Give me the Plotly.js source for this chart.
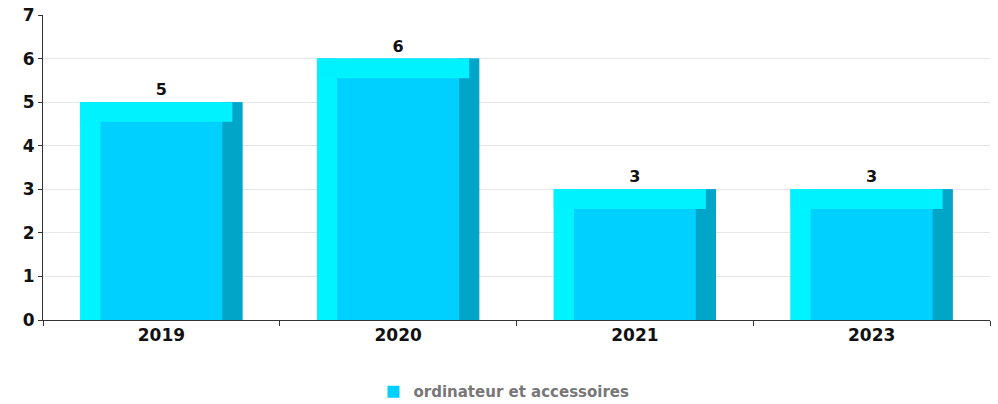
<!DOCTYPE html>
<html><head><meta charset="utf-8">
<script src="https://cdn.plot.ly/plotly-3.0.1.min.js"></script>
<style>html,body{margin:0;padding:0;background:#fff}#c{width:998px;height:404px}</style>
</head><body><div id="c"></div>
<script>
var categories = ['2019', '2020', '2021', '2023'];
var values = [5, 6, 3, 3];
var seriesName = 'ordinateur et accessoires';
var yTicks = [0, 1, 2, 3, 4, 5, 6, 7];

(function(){
var W = 0.685, S = 0.085, T = 0.45;
var mainTrace = {type:'bar', x:categories, y:values, name:seriesName, width:W,
  marker:{color:'#00D0FF', line:{width:0}},
  text:values.map(String), textposition:'outside', cliponaxis:false,
  textfont:{family:'DejaVu Sans', size:16, color:'#111', weight:'bold'},
  hoverinfo:'x+y'};
var leftTrace = {type:'bar', x:categories, y:values, width:S, offset:-W/2, showlegend:false,
  marker:{color:'#00F4FF', line:{width:0}}, hoverinfo:'skip'};
var rightTrace = {type:'bar', x:categories, y:values, width:S, offset:W/2-S, showlegend:false,
  marker:{color:'#00A5C8', line:{width:0}}, hoverinfo:'skip'};
var topTrace = {type:'bar', x:categories, y:values.map(function(){return T;}), base:values.map(function(v){return v-T;}),
  width:W-S*0.5, offset:-W/2, showlegend:false, marker:{color:'#00F2FF', line:{width:0}}, hoverinfo:'skip'};

var layout = {
  width:998, height:404, margin:{l:43, r:8, t:15, b:84, autoexpand:false},
  paper_bgcolor:'#fff', plot_bgcolor:'#fff', barmode:'overlay', bargap:0.315,
  font:{family:'DejaVu Sans', color:'#111'},
  xaxis:{type:'category', showline:true, linecolor:'#333', linewidth:1, ticks:'outside', tickson:'boundaries',
    ticklen:5, tickcolor:'#333', showgrid:false, tickfont:{size:17, weight:'bold', color:'#111'}},
  yaxis:{range:[0,7], tickvals:yTicks, showline:true, linecolor:'#333', linewidth:1, ticks:'outside', ticklen:4,
    tickcolor:'#333', gridcolor:'#e6e6e6', zeroline:false, tickfont:{size:17, weight:'bold', color:'#111'}},
  showlegend:true,
  legend:{orientation:'h', x:0.505, xanchor:'center', xref:'container', y:0.03, yanchor:'middle', yref:'container',
    font:{size:15, color:'#777', weight:'bold'}}
};
Plotly.newPlot('c', [mainTrace, rightTrace, leftTrace, topTrace], layout, {displayModeBar:false, staticPlot:true});
})();
</script></body></html>
